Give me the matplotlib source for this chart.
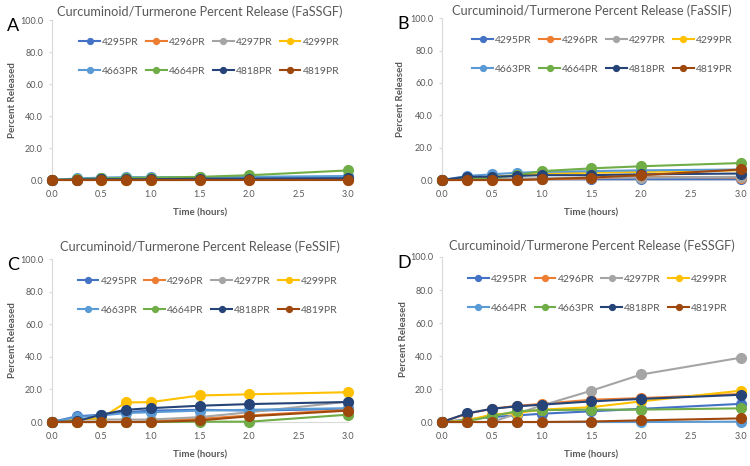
import matplotlib
matplotlib.use("Agg")
import matplotlib.pyplot as plt
from matplotlib.ticker import FormatStrFormatter, MultipleLocator

plt.rcParams['font.family'] = ['Lato', 'DejaVu Sans']

time_h = [0, 0.25, 0.5, 0.75, 1.0, 1.5, 2.0, 3.0]

colors = ['#4472C4', '#ED7D31', '#A5A5A5', '#FFC000',
          '#5B9BD5', '#70AD47', '#264478', '#9E480E']

labels_std = ['4295PR', '4296PR', '4297PR', '4299PR',
              '4663PR', '4664PR', '4818PR', '4819PR']
labels_d = ['4295PR', '4296PR', '4297PR', '4299PR',
            '4664PR', '4663PR', '4818PR', '4819PR']

# Panel A: FaSSGF
a_4295 = [0, 0.5, 1.0, 1.0, 1.0, 1.0, 1.5, 2.0]
a_4296 = [0, 0, 0, 0, 0, 0, 0.2, 0.3]
a_4297 = [0, 0.2, 0.3, 0.3, 0.3, 0.4, 0.5, 0.5]
a_4299 = [0, 0.2, 0.3, 0.3, 0.3, 0.4, 0.5, 0.6]
a_4663 = [0, 1.0, 1.5, 1.8, 1.8, 1.8, 2.0, 2.5]
a_4664 = [0, 0.5, 1.0, 1.3, 1.5, 2.0, 3.0, 6.0]
a_4818 = [0, 0.3, 0.5, 0.5, 0.5, 0.8, 0.8, 1.0]
a_4819 = [0, 0, 0, 0, 0, 0, 0, 0]

# Panel B: FaSSIF
b_4295 = [0, 0.5, 0.5, 0.5, 0.5, 0.5, 0.5, 0.5]
b_4296 = [0, 0, 0, 0, 0.5, 1.0, 2.0, 1.5]
b_4297 = [0, 1.0, 1.0, 1.0, 1.0, 1.5, 1.5, 2.0]
b_4299 = [0, 1.5, 2.0, 3.0, 4.0, 4.5, 5.0, 6.0]
b_4663 = [0, 2.5, 3.5, 4.5, 5.0, 5.5, 6.0, 6.5]
b_4664 = [0, 1.0, 1.0, 3.0, 5.5, 7.2, 8.5, 10.5]
b_4818 = [0, 2.0, 2.0, 2.5, 3.0, 3.0, 3.5, 4.0]
b_4819 = [0, 0, 0, 0, 0.5, 1.5, 3.0, 6.5]

# Panel C: FeSSIF
c_4295 = [0, 3.5, 4.5, 6.0, 7.0, 7.5, 7.0, 8.0]
c_4296 = [0, 0, 0, 0, 0.5, 2.0, 4.0, 7.5]
c_4297 = [0, 1.5, 1.5, 1.5, 1.5, 3.0, 6.0, 12.5]
c_4299 = [0, 1.5, 2.5, 12.0, 12.2, 16.3, 17.0, 18.3]
c_4663 = [0, 3.0, 4.0, 5.5, 6.0, 7.0, 7.5, 8.5]
c_4664 = [0, 0, 0, 0, 0, 0.2, 0.2, 4.5]
c_4818 = [0, 0.5, 4.5, 7.5, 8.5, 10.0, 11.0, 12.3]
c_4819 = [0, 0, 0, 0, 0, 1.0, 3.5, 7.0]

# Panel D: FeSSGF (legend order as in source: 4664PR light blue, 4663PR green)
d_4295 = [0, 1.5, 3.0, 4.0, 5.0, 6.5, 8.0, 11.0]
d_4296 = [0, 5.0, 8.0, 9.8, 11.0, 13.5, 14.5, 17.0]
d_4297 = [0, 0, 0, 5.0, 10.0, 19.0, 28.8, 39.0]
d_4299 = [0, 1.0, 4.5, 5.5, 7.5, 9.0, 12.5, 19.0]
d_4664 = [0, 0, 0, 0, 0, 0, 0, 0.2]
d_4663 = [0, 0.5, 3.5, 6.5, 7.2, 7.5, 7.5, 8.3]
d_4818 = [0, 5.2, 8.0, 9.5, 10.5, 12.5, 14.0, 16.5]
d_4819 = [0, 0, 0, 0, 0, 0.3, 1.0, 2.2]

panels = [
    dict(letter='A', title='Curcuminoid/Turmerone Percent Release (FaSSGF)',
         labels=labels_std,
         series=[a_4295, a_4296, a_4297, a_4299, a_4663, a_4664, a_4818, a_4819],
         rect=[0.0693, 0.6137, 0.3947, 0.3433], leg=(0.06, 0.95), ylx=-0.118, tpad=3),
    dict(letter='B', title='Curcuminoid/Turmerone Percent Release (FaSSIF)',
         labels=labels_std,
         series=[b_4295, b_4296, b_4297, b_4299, b_4663, b_4664, b_4818, b_4819],
         rect=[0.5893, 0.6137, 0.3987, 0.3473], leg=(0.07, 0.95), ylx=-0.125, tpad=2.5),
    dict(letter='C', title='Curcuminoid/Turmerone Percent Release (FeSSIF)',
         labels=labels_std,
         series=[c_4295, c_4296, c_4297, c_4299, c_4663, c_4664, c_4818, c_4819],
         rect=[0.0693, 0.0944, 0.3947, 0.3496], leg=(0.055, 0.95), ylx=-0.118, tpad=6),
    dict(letter='D', title='Curcuminoid/Turmerone Percent Release (FeSSGF)',
         labels=labels_d,
         series=[d_4295, d_4296, d_4297, d_4299, d_4664, d_4663, d_4818, d_4819],
         rect=[0.5893, 0.0944, 0.3987, 0.3541], leg=(0.055, 0.95), ylx=-0.115, tpad=5),
]

fig = plt.figure(figsize=(7.5, 4.66), dpi=100)
txt = '#595959'
order = [0, 4, 1, 5, 2, 6, 3, 7]

for p in panels:
    ax = fig.add_axes(p['rect'])
    handles = []
    for vals, col, lab in zip(p['series'], colors, p['labels']):
        h, = ax.plot(time_h, vals, '-o', color=col, lw=1.5, ms=7,
                     label=lab, clip_on=False, zorder=3)
        handles.append(h)
    ax.set_xlim(0, 3)
    ax.set_ylim(0, 100)
    ax.xaxis.set_major_locator(MultipleLocator(0.5))
    ax.yaxis.set_major_locator(MultipleLocator(20))
    ax.xaxis.set_major_formatter(FormatStrFormatter('%.1f'))
    ax.yaxis.set_major_formatter(FormatStrFormatter('%.1f'))
    for s in ['top', 'right']:
        ax.spines[s].set_visible(False)
    for s in ['left', 'bottom']:
        ax.spines[s].set_color('#D9D9D9')
        ax.spines[s].set_linewidth(0.8)
    ax.tick_params(axis='x', labelsize=6.5, colors=txt, length=0, pad=7)
    ax.tick_params(axis='y', labelsize=6.5, colors=txt, length=2.5,
                   color='#D9D9D9', direction='out', pad=4)
    ax.set_xlabel('Time (hours)', fontsize=7, fontweight='bold', color=txt, labelpad=7)
    ax.set_ylabel('Percent Released', fontsize=7, fontweight='bold', color=txt)
    ax.yaxis.set_label_coords(p['ylx'], 0.5)
    ax.set_title(p['title'], fontsize=9.2, color=txt, pad=p['tpad'])
    leg = ax.legend(handles=[handles[i] for i in order], ncol=4, loc='upper left',
                    bbox_to_anchor=p['leg'], frameon=False, fontsize=7.5,
                    labelcolor=txt, markerscale=0.6, handlelength=2.0,
                    handletextpad=0.2, columnspacing=0.7, labelspacing=1.9)
    pos = ax.get_position()
    fig.text(pos.x0 - 0.06, pos.y1 + 0.005, p['letter'], fontsize=13,
             va='top', ha='left', color='black')

fig.savefig('out.png', dpi=100)
